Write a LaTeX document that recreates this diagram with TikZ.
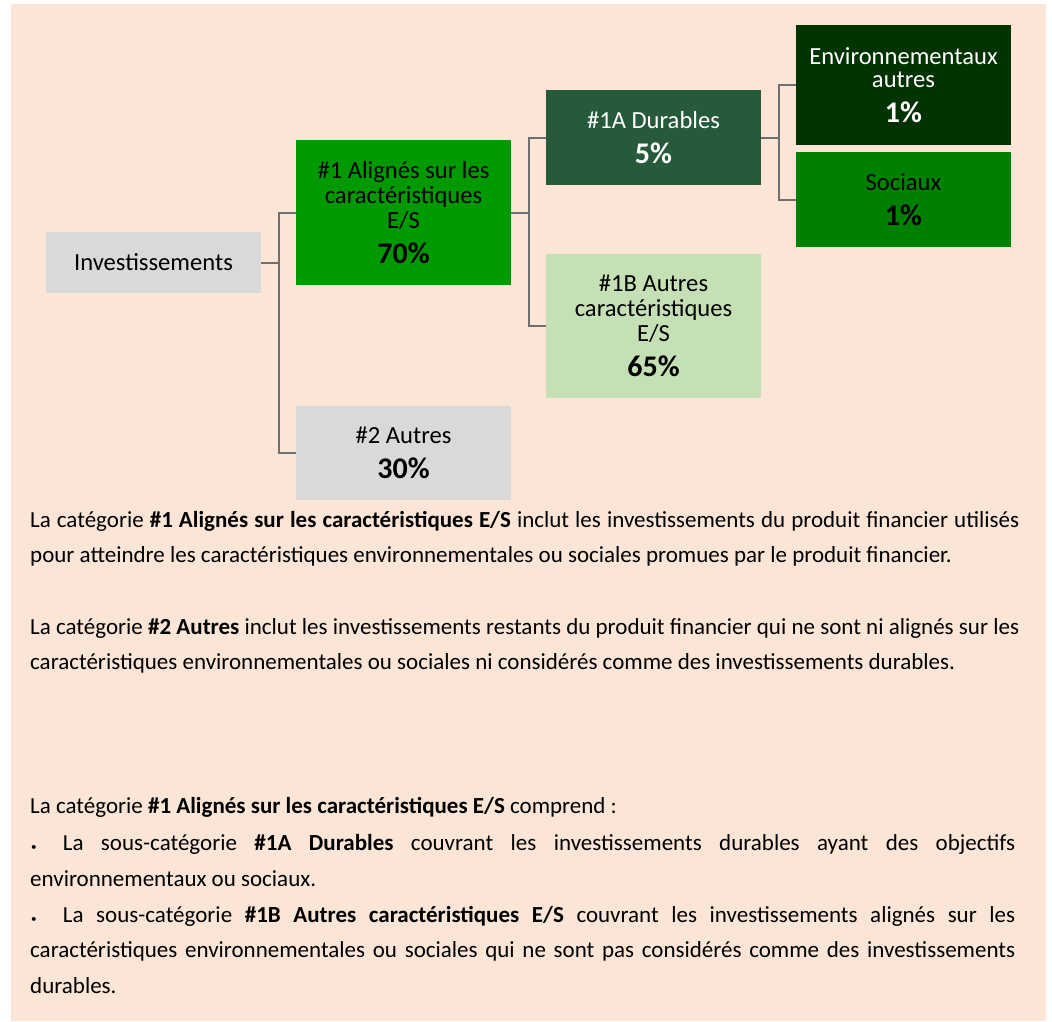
\documentclass[tikz,border=0pt]{standalone}
\usepackage{fontspec}
\setmainfont{Carlito}
\definecolor{peach}{HTML}{FBE5D6}
\definecolor{greyfill}{HTML}{D9D9D9}
\definecolor{gmain}{HTML}{009900}
\definecolor{gdur}{HTML}{275A3B}
\definecolor{genv}{HTML}{003300}
\definecolor{gsoc}{HTML}{008000}
\definecolor{glight}{HTML}{C5E0B4}
\definecolor{connc}{HTML}{706F6F}
\newcommand\boxfont{\fontsize{24.6}{25}\selectfont}
\newcommand\pctfont{\fontsize{30}{30}\selectfont\bfseries}
\newcommand\bodyfont{\fontsize{23}{26}\selectfont}
\newcommand\bulletmark{\makebox[32.7pt][l]{\hspace{1pt}\raisebox{0pt}{\fontsize{11}{11}\selectfont •}}}
\tikzset{
  box/.style={rectangle, inner sep=0pt, minimum width=215pt, align=center, font=\boxfont},
  conn/.style={draw=connc, line width=2pt},
  bodyline/.style={anchor=base west, inner sep=0pt, font=\bodyfont},
}
\begin{document}
\begin{tikzpicture}[x=1pt,y=-1pt]
\useasboundingbox (0,0) rectangle (1052,1021);
\fill[white] (0,0) rectangle (1052,1021);
\fill[peach] (11,4) rectangle (1046,1021);

% boxes
\node[box, fill=greyfill, minimum height=61pt] (inv) at (153.5,262.5) {Investissements};
\node[box, fill=gmain, minimum height=145pt] (a1) at (403.5,212.5) {\#1 Alignés sur les\\caractéristiques\\E/S\\[10pt]{\pctfont 70\%}};
\node[box, fill=greyfill, minimum height=94pt] (a2) at (403.5,453) {\#2 Autres\\[10pt]{\pctfont 30\%}};
\node[box, fill=gdur, text=white, minimum height=95pt] (a1a) at (653.5,137.5) {\#1A Durables\\[10pt]{\pctfont 5\%}};
\node[box, fill=glight, minimum height=144pt] (a1b) at (653.5,326) {\#1B Autres\\caractéristiques\\E/S\\[10pt]{\pctfont 65\%}};
\node[box, fill=genv, text=white, minimum height=120pt] (env) at (903.5,85) {Environnementaux\\[-1.5pt]autres\\[10pt]{\pctfont 1\%}};
\node[box, fill=gsoc, minimum height=95pt] (soc) at (903.5,199.5) {Sociaux\\[10pt]{\pctfont 1\%}};

% connectors
\draw[conn] (inv.east) -- ++(18,0) |- (a1.west);
\draw[conn] (inv.east) -- ++(18,0) |- (a2.west);
\draw[conn] (a1.east) -- ++(18,0) |- (a1a.west);
\draw[conn] (a1.east) -- ++(18,0) |- (a1b.west);
\draw[conn] (a1a.east) -- ++(18,0) |- (env.west);
\draw[conn] (a1a.east) -- ++(18,0) |- (soc.west);

% text
\node[bodyline] (p1a) at (30,527) {\makebox[989pt][s]{La catégorie \textbf{\#1 Alignés sur les caractéristiques E/S} inclut les investissements du produit financier utilisés}};
\node[bodyline] (p1b) at (30,562) {pour atteindre les caractéristiques environnementales ou sociales promues par le produit financier.};
\node[bodyline] (p2a) at (30,634) {\makebox[989pt][s]{La catégorie \textbf{\#2 Autres} inclut les investissements restants du produit financier qui ne sont ni alignés sur les}};
\node[bodyline] (p2b) at (30,669) {caractéristiques environnementales ou sociales ni considérés comme des investissements durables.};
\node[bodyline] (p3) at (30,813) {La catégorie \textbf{\#1 Alignés sur les caractéristiques E/S} comprend :};
\node[bodyline] (b1a) at (30,850) {\bulletmark\makebox[952.3pt][s]{La sous-catégorie \textbf{\#1A Durables} couvrant les investissements durables ayant des objectifs}};
\node[bodyline] (b1b) at (30,886) {environnementaux ou sociaux.};
\node[bodyline] (b2a) at (30,922) {\bulletmark\makebox[952.3pt][s]{La sous-catégorie \textbf{\#1B Autres caractéristiques E/S} couvrant les investissements alignés sur les}};
\node[bodyline] (b2b) at (30,957) {\makebox[985pt][s]{caractéristiques environnementales ou sociales qui ne sont pas considérés comme des investissements}};
\node[bodyline] (b2c) at (30,993) {durables.};
\end{tikzpicture}
\end{document}
